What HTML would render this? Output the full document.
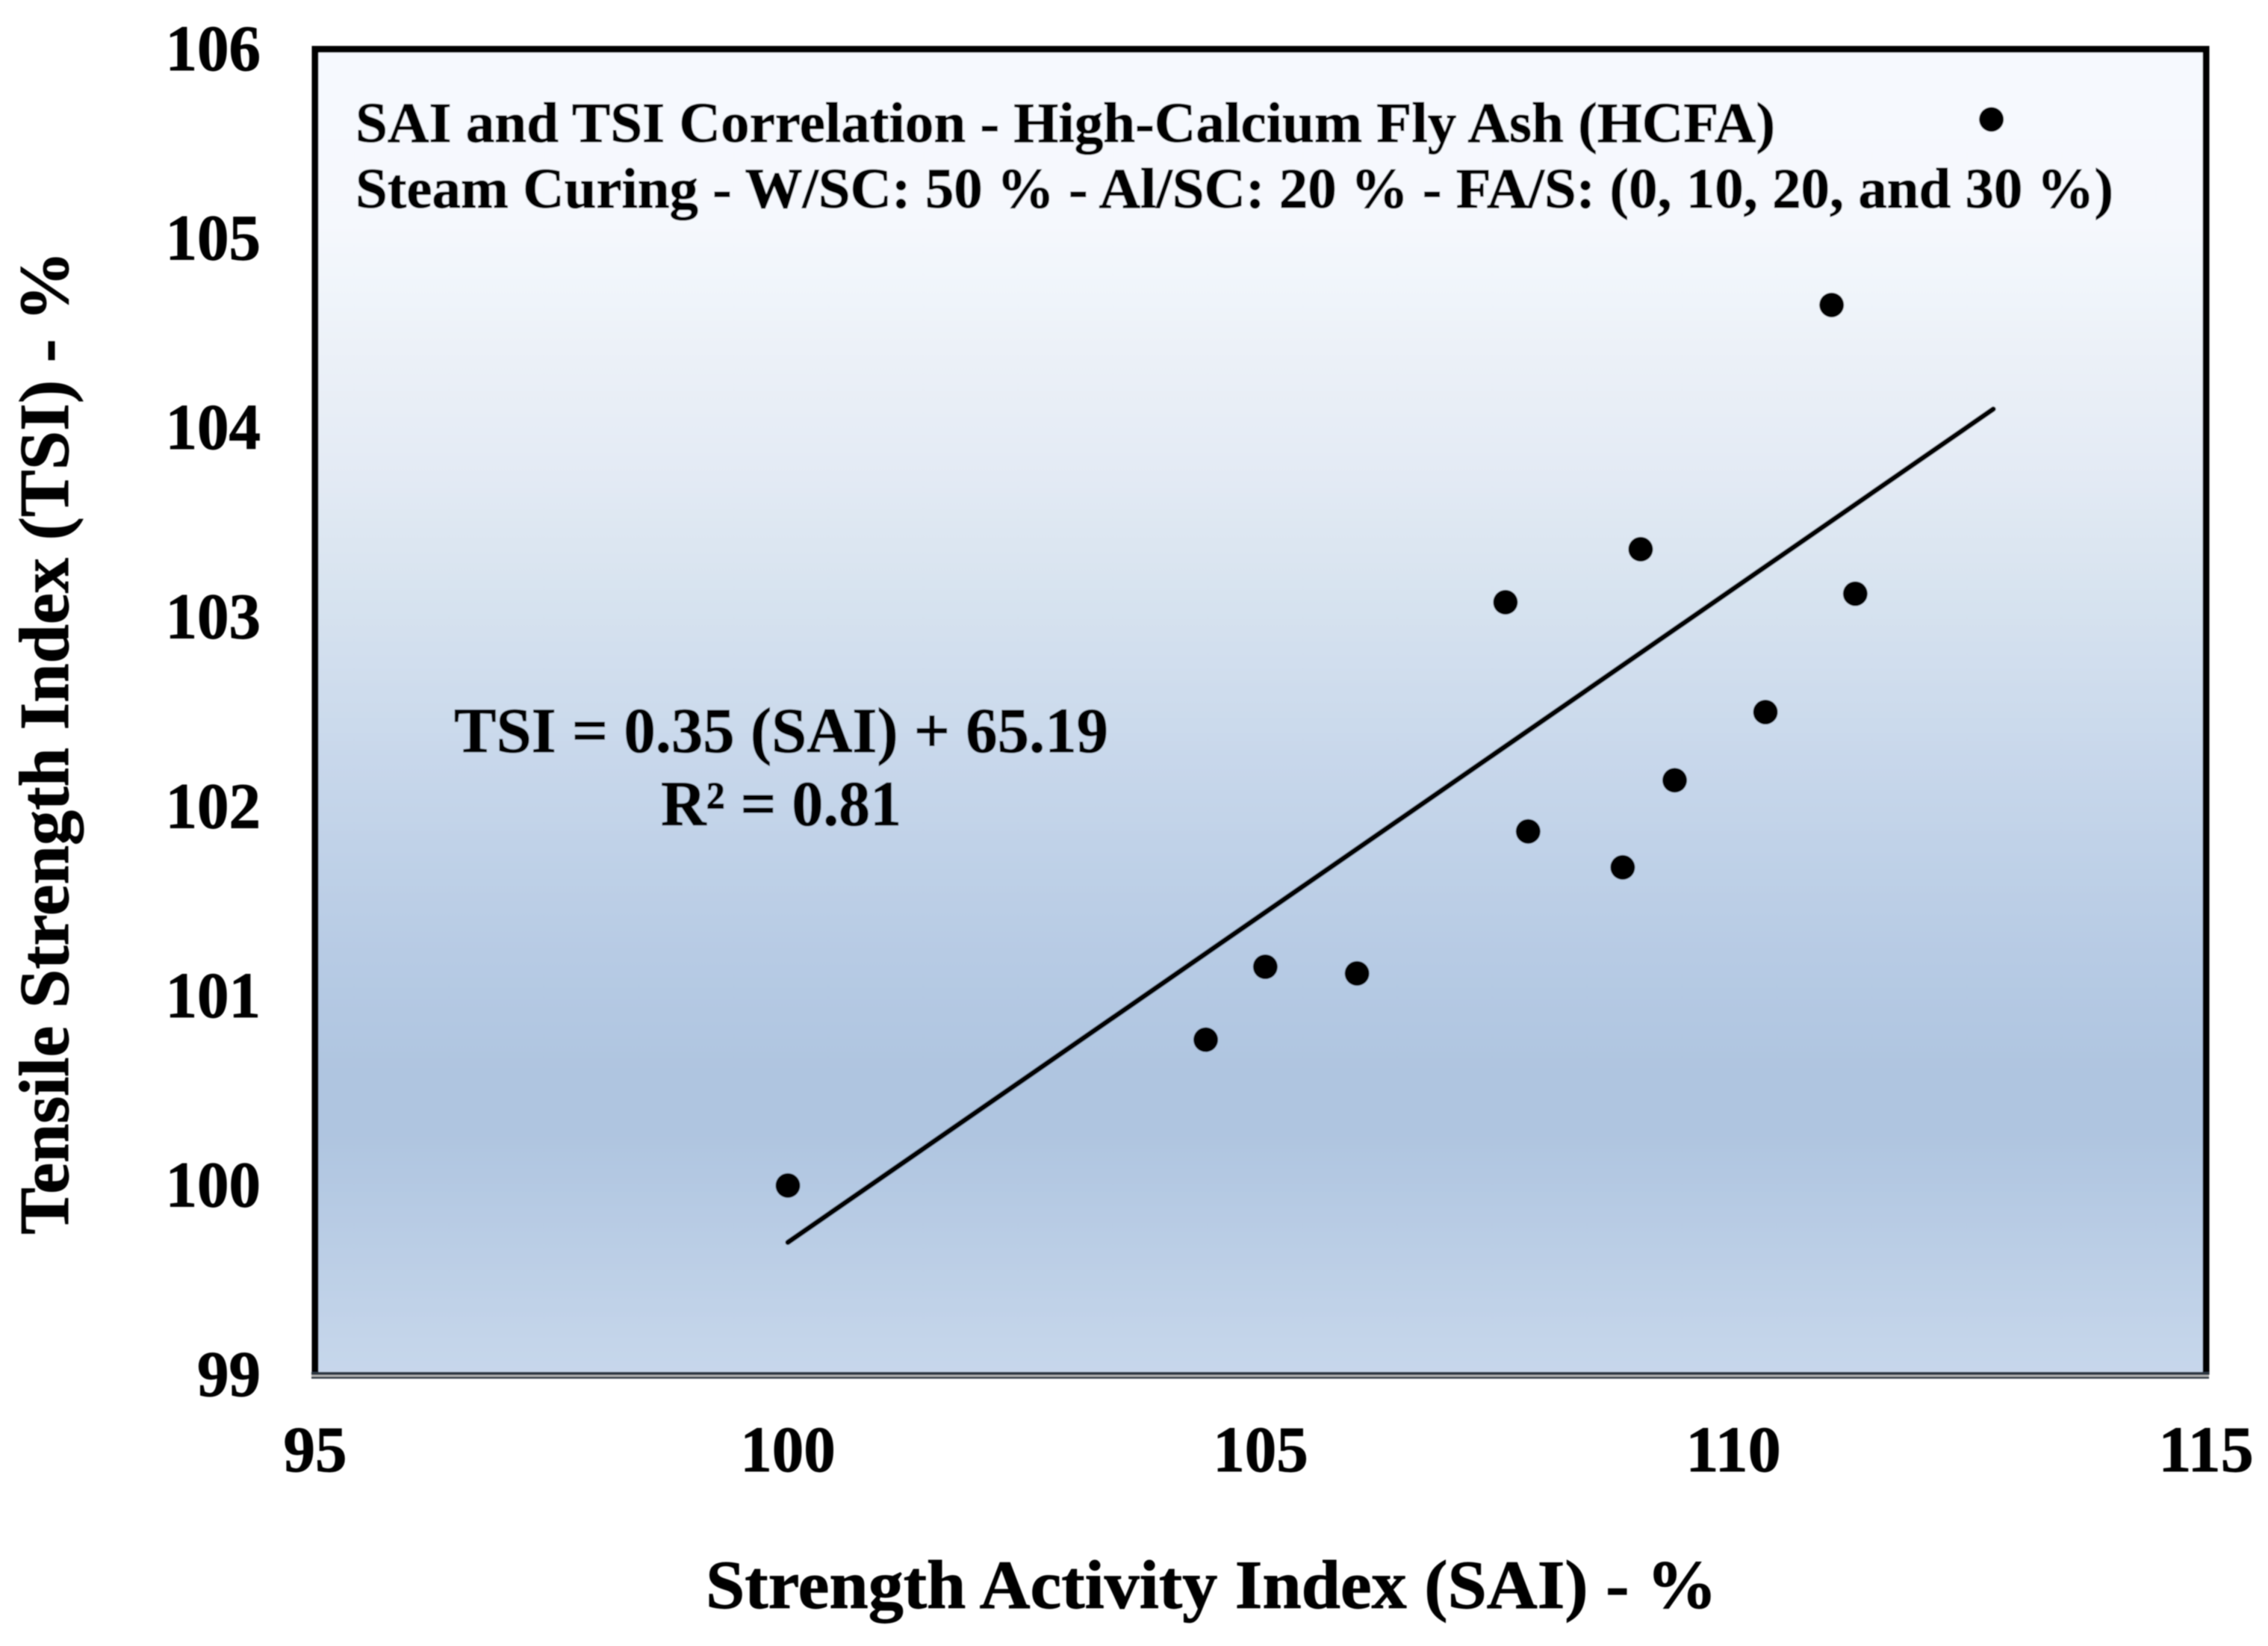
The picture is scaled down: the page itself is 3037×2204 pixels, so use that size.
<!DOCTYPE html>
<html>
<head>
<meta charset="utf-8">
<style>
html,body{margin:0;padding:0;background:#fff;}
svg{display:block;}
text{font-family:"Liberation Serif",serif;font-weight:bold;fill:#000;stroke:#000;stroke-width:0.9;}
</style>
</head>
<body>
<svg id="chart" xmlns="http://www.w3.org/2000/svg" width="3037" height="2204" viewBox="0 0 3037 2204">
<defs>
<linearGradient id="plotGradient" x1="0" y1="0" x2="0" y2="1">
<stop offset="0" stop-color="#f6f9fe"/>
<stop offset="0.13" stop-color="#f5f8fd"/>
<stop offset="0.2" stop-color="#eef3f9"/>
<stop offset="0.32" stop-color="#e3eaf4"/>
<stop offset="0.42" stop-color="#d6e2ef"/>
<stop offset="0.55" stop-color="#c6d6ea"/>
<stop offset="0.68" stop-color="#b7cbe4"/>
<stop offset="0.77" stop-color="#afc5e0"/>
<stop offset="0.82" stop-color="#afc5e0"/>
<stop offset="1" stop-color="#c7d7eb"/>
</linearGradient>
<filter id="soft" x="-2%" y="-2%" width="104%" height="104%"><feGaussianBlur stdDeviation="0.9"/></filter>
</defs>
<rect x="0" y="0" width="3037" height="2204" fill="#ffffff"/>
<g id="root" filter="url(#soft)">
<rect x="422" y="66" width="2532" height="1775" fill="url(#plotGradient)"/>
<g id="marks"></g>
<path d="M422 1841V66H2954V1841" fill="none" stroke="#000" stroke-width="9"/>
<rect x="417" y="1837" width="2541" height="9" fill="#2c3440"/>
<rect x="417" y="1841" width="2541" height="2.5" fill="#b5b5b5"/>
<g id="tick-labels"></g>
<text x="476" y="190" font-size="76" textLength="1901" lengthAdjust="spacingAndGlyphs">SAI and TSI Correlation - High-Calcium Fly Ash (HCFA)</text>
<text x="476" y="278" font-size="76" textLength="2354" lengthAdjust="spacingAndGlyphs">Steam Curing - W/SC: 50 % - Al/SC: 20 % - FA/S: (0, 10, 20, and 30 %)</text>
<text x="608" y="1007" font-size="86" textLength="876" lengthAdjust="spacingAndGlyphs">TSI = 0.35 (SAI) + 65.19</text>
<text x="885" y="1105" font-size="86" textLength="322" lengthAdjust="spacingAndGlyphs">R² = 0.81</text>
<text x="945" y="2153" font-size="92" textLength="1354" lengthAdjust="spacingAndGlyphs">Strength Activity Index (SAI) - %</text>
<text transform="translate(91 1653) rotate(-90)" x="0" y="0" font-size="94" textLength="1317" lengthAdjust="spacingAndGlyphs">Tensile Strength Index (TSI) - %</text>
</g>
</svg>
<script>
const saiValues = [100, 104.42, 105.05, 106.02, 107.59, 107.83, 108.83, 109.02, 109.38, 110.34, 111.04, 111.29, 112.73];
const tsiValues = [100, 100.77, 101.155, 101.12, 103.08, 101.87, 101.68, 103.36, 102.14, 102.5, 104.65, 103.125, 105.63];
const trendSai = [100, 112.75];
const trendTsi = [99.7, 104.1];
const xTickLabels = [95, 100, 105, 110, 115];
const yTickLabels = [99, 100, 101, 102, 103, 104, 105, 106];

const NS = 'http://www.w3.org/2000/svg';
const xMin = 95, xMax = 115, yMin = 99, yMax = 106;
const plotLeft = 422, plotRight = 2954, plotTop = 66, plotBottom = 1841;
function xScale(v) { return plotLeft + (v - xMin) / (xMax - xMin) * (plotRight - plotLeft); }
function yScale(v) { return plotBottom - (v - yMin) / (yMax - yMin) * (plotBottom - plotTop); }

const marks = document.getElementById('marks');
const labels = document.getElementById('tick-labels');

const trend = document.createElementNS(NS, 'line');


trend.setAttribute('x1', xScale(trendSai[0]));
trend.setAttribute('y1', yScale(trendTsi[0]));
trend.setAttribute('x2', xScale(trendSai[1]));
trend.setAttribute('y2', yScale(trendTsi[1]));
trend.setAttribute('stroke', '#000');
trend.setAttribute('stroke-width', '7');
trend.setAttribute('stroke-linecap', 'round');
marks.appendChild(trend);

saiValues.forEach(function (sai, i) {
  const dot = document.createElementNS(NS, 'circle');
  
  
  dot.setAttribute('cx', xScale(sai));
  dot.setAttribute('cy', yScale(tsiValues[i]));
  dot.setAttribute('r', '16.5');
  dot.setAttribute('fill', '#000');
  marks.appendChild(dot);
});

xTickLabels.forEach(function (v) {
  const t = document.createElementNS(NS, 'text');
  
  
  const s = String(v);
  t.setAttribute('x', xScale(v) - s.length * 21.25);
  t.setAttribute('y', 1970);
  t.setAttribute('font-size', '87');
  t.setAttribute('textLength', s.length * 42.5);
  t.setAttribute('lengthAdjust', 'spacingAndGlyphs');
  t.textContent = s;
  labels.appendChild(t);
});

yTickLabels.forEach(function (v) {
  const t = document.createElementNS(NS, 'text');
  
  
  const s = String(v);
  t.setAttribute('x', 349 - s.length * 42.5);
  t.setAttribute('y', yScale(v) + 28);
  t.setAttribute('font-size', '87');
  t.setAttribute('textLength', s.length * 42.5);
  t.setAttribute('lengthAdjust', 'spacingAndGlyphs');
  t.textContent = s;
  labels.appendChild(t);
});
</script>
</body>
</html>
